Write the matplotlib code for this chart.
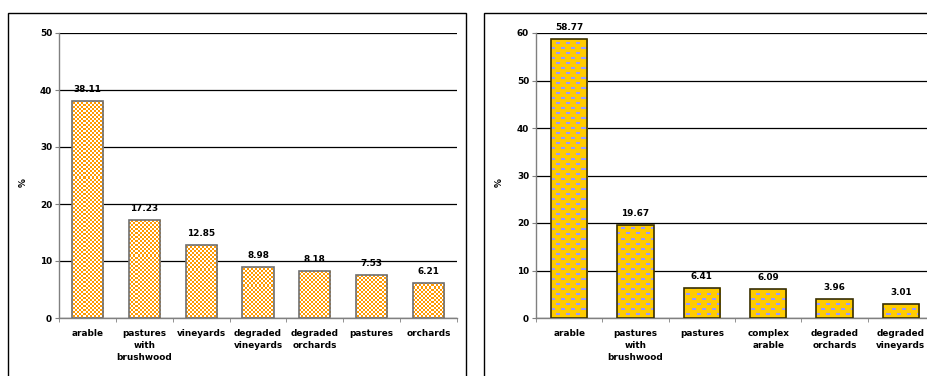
import numpy as np
import matplotlib
matplotlib.use("Agg")
import matplotlib.pyplot as plt
from matplotlib.patches import Rectangle

plt.rcParams['font.family'] = ['DejaVu Sans']
plt.rcParams['font.weight'] = 'bold'

# Land cover shares, first area
left_categories = ["arable", "pastures\nwith\nbrushwood", "vineyards", "degraded\nvineyards",
                   "degraded\norchards", "pastures", "orchards"]
left_values = [38.11, 17.23, 12.85, 8.98, 8.18, 7.53, 6.21]
left_yticks = [0, 10, 20, 30, 40, 50]

# Land cover shares, second area
right_categories = ["arable", "pastures\nwith\nbrushwood", "pastures", "complex\narable",
                    "degraded\norchards", "degraded\nvineyards"]
right_values = [58.77, 19.67, 6.41, 6.09, 3.96, 3.01]
right_yticks = [0, 10, 20, 30, 40, 50, 60]

W, H = 928, 376
DPI = 100
FS = 6.4
fig = plt.figure(figsize=(W / DPI, H / DPI), dpi=DPI)


def fx(px):
    return px / W


def fy(py):
    return 1 - py / H


# chart area frames (bottom edge runs past the figure)
for x0, x1 in [(8, 466), (484, 940)]:
    fig.patches.append(Rectangle((fx(x0), fy(400)), fx(x1 - x0), fy(13) - fy(400),
                                 transform=fig.transFigure, fill=False,
                                 edgecolor='black', linewidth=1.0, zorder=0))


def checker_texture(h, w):
    tex = np.ones((h, w, 4))
    yy, xx = np.mgrid[0:h, 0:w]
    mask = ((yy // 2) + (xx // 2)) % 2 == 0
    tex[mask, :3] = np.array([255, 153, 0]) / 255
    return tex


def dash_texture(h, w):
    tex = np.ones((h, w, 4))
    tex[..., :3] = np.array([255, 204, 0]) / 255
    yy, xx = np.mgrid[0:h, 0:w]
    row = yy // 5
    shift = (row % 2) * 5
    mask = ((yy % 5) < 2) & (((xx + shift) % 10) < 4)
    tex[mask, :3] = np.array([153, 153, 255]) / 255
    return tex


def make_panel(rect, cats, vals, yticks, texture, edge, label_offset):
    ax = fig.add_axes(rect)
    n = len(cats)
    x = np.arange(n)
    ax.set_xlim(-0.5, n - 0.5)
    ax.set_ylim(0, yticks[-1])
    bars = ax.bar(x, vals, width=0.55, facecolor='none', edgecolor=edge,
                  linewidth=1.2, zorder=4)

    fig.canvas.draw()
    bb = ax.get_window_extent()
    tex = texture(int(round(bb.height)), int(round(bb.width)))
    for b in bars:
        im = ax.imshow(tex, extent=(-0.5, n - 0.5, 0, yticks[-1]), aspect='auto',
                       interpolation='nearest', origin='upper', zorder=3)
        im.set_clip_path(b)
    ax.set_xlim(-0.5, n - 0.5)
    ax.set_ylim(0, yticks[-1])

    for xi, v in zip(x, vals):
        ax.annotate(f"{v:.2f}", (xi, v), xytext=(0, label_offset), textcoords='offset points',
                    ha='center', va='bottom', fontsize=FS, fontweight='bold', zorder=5)

    ax.set_yticks(yticks)
    ax.set_yticklabels([str(t) for t in yticks], fontsize=FS, fontweight='bold')
    ax.yaxis.grid(True, color='black', linewidth=0.9)
    ax.set_axisbelow(True)
    ax.set_xticks(x)
    ax.set_xticklabels(cats, fontsize=FS, fontweight='bold', linespacing=1.45)
    ax.tick_params(axis='x', which='major', length=0, pad=8)
    ax.set_xticks(np.arange(-0.5, n, 1.0), minor=True)
    ax.tick_params(axis='x', which='minor', length=3, color='#808080', direction='out')
    ax.tick_params(axis='y', length=3, color='#808080', pad=2)
    for s in ['top', 'right']:
        ax.spines[s].set_visible(False)
    for s in ['left', 'bottom']:
        ax.spines[s].set_color('#808080')
        ax.spines[s].set_linewidth(1.0)
    return ax


axl = make_panel([fx(59), fy(318), fx(457 - 59), fy(33) - fy(318)],
                 left_categories, left_values, left_yticks, checker_texture, '#707070', 5)
axr = make_panel([fx(536), fy(318), fx(934 - 536), fy(33) - fy(318)],
                 right_categories, right_values, right_yticks, dash_texture, '#3a3000', 5)

fig.text(fx(23), fy(183), "%", rotation=90, ha='center', va='center', fontsize=FS, fontweight='bold')
fig.text(fx(499), fy(183), "%", rotation=90, ha='center', va='center', fontsize=FS, fontweight='bold')

fig.savefig("out.png", dpi=DPI)
